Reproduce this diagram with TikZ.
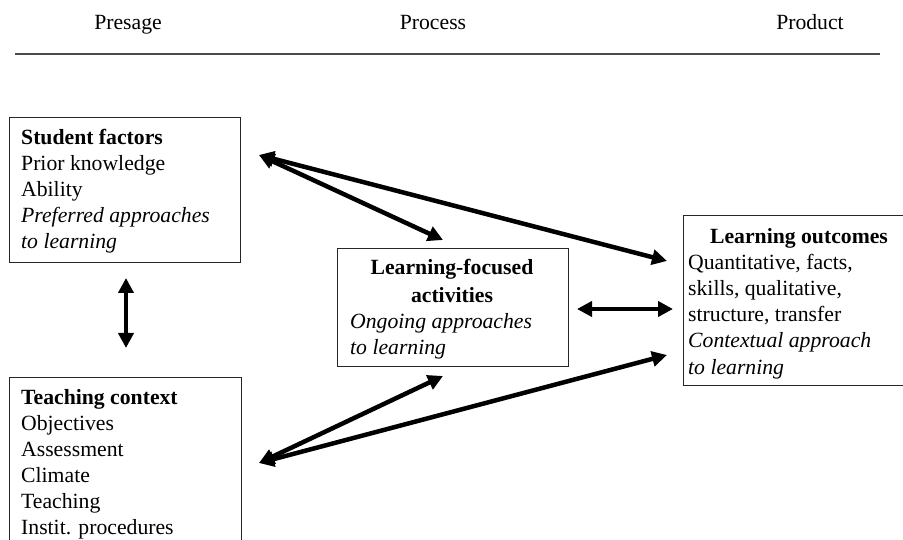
\documentclass[tikz,border=0pt]{standalone}
\usepackage{fontspec}
\setmainfont{Liberation Serif}
\usetikzlibrary{arrows.meta,calc}
\begin{document}
\begin{tikzpicture}[x=1pt,y=-1pt,
  box/.style={draw=black!85, line width=1.3pt, inner sep=0pt, anchor=north west},
  txt/.style={anchor=base west, inner sep=0pt, font=\fontsize{21.7}{26}\selectfont},
  ctxt/.style={anchor=base, inner sep=0pt, font=\fontsize{21.7}{26}\selectfont},
  dbl/.style={line width=4.5pt,
    {Triangle[length=15pt,width=15pt]}-{Triangle[length=15pt,width=15pt]}}
]
\useasboundingbox (0,0) rectangle (903,540);
\clip (0,0) rectangle (903,540);

% header
\node[ctxt] (hpre) at (128,30) {Presage};
\node[ctxt] (hproc) at (433,30) {Process};
\node[ctxt] (hprod) at (810,30) {Product};
\coordinate (hl) at (15,54);
\coordinate (hr) at (880,54);
\draw[line width=1.3pt, black!70] (hl) -- (hr);

% boxes
\node[box, minimum width=231pt, minimum height=145pt] (student) at (9,117) {};
\node[box, minimum width=232pt, minimum height=200pt] (teach) at (9,377) {};
\node[box, minimum width=231pt, minimum height=118pt] (mid) at (337,248) {};
\node[box, minimum width=240pt, minimum height=170pt] (out) at (683,215) {};

% student text
\node[txt] (s1) at (21,145) {\textbf{Student factors}};
\node[txt] (s2) at (21,171) {Prior knowledge};
\node[txt] (s3) at (21,197) {Ability};
\node[txt] (s4) at (21,223) {\textit{Preferred approaches}};
\node[txt] (s5) at (21,249) {\textit{to learning}};

% teaching text
\node[txt] (t1) at (21,404) {\textbf{Teaching context}};
\node[txt] (t2) at (21,430) {Objectives};
\node[txt] (t3) at (21,456) {Assessment};
\node[txt] (t4) at (21,482) {Climate};
\node[txt] (t5) at (21,508) {Teaching};
\node[txt] (t6) at (21,534) {Instit. procedures};

% middle text
\node[ctxt] (m1) at (452,275) {\textbf{Learning-focused}};
\node[ctxt] (m2) at (452,302) {\textbf{activities}};
\node[txt] (m3) at (350,329) {\textit{Ongoing approaches}};
\node[txt] (m4) at (350,355) {\textit{to learning}};

% outcomes text
\node[ctxt] (o1) at (799,244) {\textbf{Learning outcomes}};
\node[txt] (o2) at (688,270) {Quantitative, facts,};
\node[txt] (o3) at (688,296) {skills, qualitative,};
\node[txt] (o4) at (688,322) {structure, transfer};
\node[txt] (o5) at (688,348) {\textit{Contextual approach}};
\node[txt] (o6) at (688,374) {\textit{to learning}};

% arrow end points
\coordinate (sR) at (259,155);
\coordinate (oA) at (667,261);
\coordinate (mT) at (443,240);
\coordinate (mR) at (577,309);
\coordinate (oB) at (673,309);
\coordinate (tR) at (259,463);
\coordinate (mB) at (443,376);
\coordinate (oC) at (667,355);
\coordinate (sB) at (126,278);
\coordinate (tT) at (126,348);

\draw[dbl] (sR) -- (oA);
\draw[dbl] (sR) -- (mT);
\draw[dbl] (mR) -- (oB);
\draw[dbl] (tR) -- (mB);
\draw[dbl] (tR) -- (oC);
\draw[dbl] (sB) -- (tT);
\end{tikzpicture}
\end{document}
